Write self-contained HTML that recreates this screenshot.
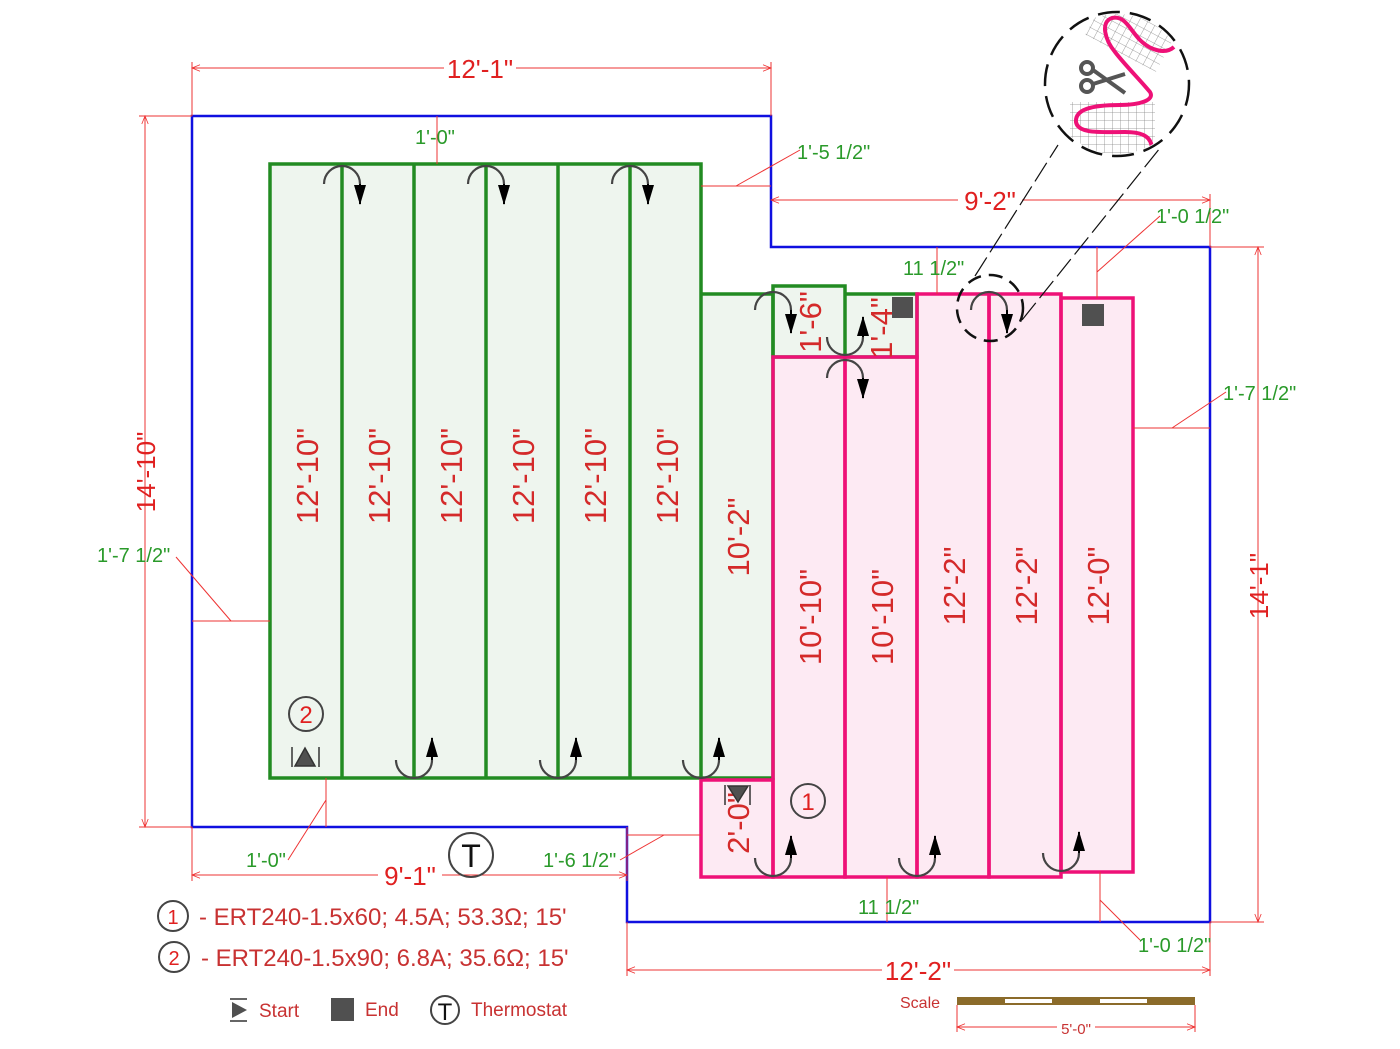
<!DOCTYPE html>
<html><head><meta charset="utf-8"><style>
html,body{margin:0;padding:0;background:#fff}
svg{display:block}
text{font-family:"Liberation Sans",sans-serif}
</style></head><body>
<svg width="1400" height="1049" viewBox="0 0 1400 1049" xmlns="http://www.w3.org/2000/svg">
<defs>
<marker id="ah" viewBox="0 0 20 12" refX="19" refY="6" markerWidth="20" markerHeight="12" orient="auto" markerUnits="userSpaceOnUse">
<path d="M0,0 L20,6 L0,12 z" fill="#000"/></marker>
<marker id="rh" viewBox="0 0 10 10" refX="10" refY="5" markerWidth="22" markerHeight="8" orient="auto-start-reverse" markerUnits="userSpaceOnUse">
<path d="M0,1 L10,5 L0,9" fill="none" stroke="#e33" stroke-width="1"/></marker>
<pattern id="grid" width="8" height="8" patternUnits="userSpaceOnUse"><path d="M8,0 L0,0 0,8" fill="none" stroke="#888" stroke-width="0.8"/></pattern>
<clipPath id="cc"><circle cx="1117" cy="84" r="70"/></clipPath>
</defs>

<rect x="270" y="164" width="431" height="614" fill="#eef5ee"/>
<rect x="701" y="294" width="72" height="484" fill="#eef5ee"/>
<rect x="773" y="286" width="72" height="71" fill="#eef5ee"/>
<rect x="845" y="294" width="72" height="63" fill="#eef5ee"/>
<rect x="773" y="357" width="144" height="520" fill="#fdeaf3"/>
<rect x="917" y="294" width="144" height="583" fill="#fdeaf3"/>
<rect x="1061" y="298" width="72" height="574" fill="#fdeaf3"/>
<rect x="701" y="780" width="72" height="97" fill="#fdeaf3"/>

<path d="M192,116 H771 V247 H1210 V922 H627 V827 H192 Z" fill="none" stroke="#1010e0" stroke-width="2.5"/>

<g fill="none" stroke="#228b22" stroke-width="3.5">
<rect x="270" y="164" width="431" height="614"/>
<line x1="342" y1="164" x2="342" y2="778"/><line x1="414" y1="164" x2="414" y2="778"/>
<line x1="486" y1="164" x2="486" y2="778"/><line x1="558" y1="164" x2="558" y2="778"/>
<line x1="630" y1="164" x2="630" y2="778"/>
<path d="M701,294 H773 V778 H701"/>
<rect x="773" y="286" width="72" height="71"/>
<path d="M845,294 H917 V357 H845"/>
</g>
<g fill="none" stroke="#ee1177" stroke-width="3.5">
<rect x="773" y="357" width="72" height="520"/>
<rect x="845" y="357" width="72" height="520"/>
<rect x="917" y="294" width="72" height="583"/>
<rect x="989" y="294" width="72" height="583"/>
<rect x="1061" y="298" width="72" height="574"/>
<rect x="701" y="780" width="72" height="97"/>
</g>

<g fill="#d42a2a" font-size="31">
<text transform="translate(318,476) rotate(-90)" text-anchor="middle">12'-10"</text>
<text transform="translate(390,476) rotate(-90)" text-anchor="middle">12'-10"</text>
<text transform="translate(462,476) rotate(-90)" text-anchor="middle">12'-10"</text>
<text transform="translate(534,476) rotate(-90)" text-anchor="middle">12'-10"</text>
<text transform="translate(606,476) rotate(-90)" text-anchor="middle">12'-10"</text>
<text transform="translate(678,476) rotate(-90)" text-anchor="middle">12'-10"</text>
<text transform="translate(749,537) rotate(-90)" text-anchor="middle">10'-2"</text>
<text transform="translate(821,617) rotate(-90)" text-anchor="middle">10'-10"</text>
<text transform="translate(893,617) rotate(-90)" text-anchor="middle">10'-10"</text>
<text transform="translate(965,586) rotate(-90)" text-anchor="middle">12'-2"</text>
<text transform="translate(1037,586) rotate(-90)" text-anchor="middle">12'-2"</text>
<text transform="translate(1109,586) rotate(-90)" text-anchor="middle">12'-0"</text>
<text transform="translate(821,322) rotate(-90)" text-anchor="middle">1'-6"</text>
<text transform="translate(892,328) rotate(-90)" text-anchor="middle">1'-4"</text>
<text transform="translate(749,823) rotate(-90)" text-anchor="middle">2'-0"</text>
</g>

<g stroke="#e33" stroke-width="1" fill="none">
<line x1="192" y1="68" x2="771" y2="68" marker-start="url(#rh)" marker-end="url(#rh)"/>
<line x1="192" y1="62" x2="192" y2="116"/><line x1="771" y1="62" x2="771" y2="116"/>
<line x1="145" y1="116" x2="145" y2="827" marker-start="url(#rh)" marker-end="url(#rh)"/>
<line x1="139" y1="116" x2="192" y2="116"/><line x1="139" y1="827" x2="192" y2="827"/>
<line x1="771" y1="200" x2="1210" y2="200" marker-start="url(#rh)" marker-end="url(#rh)"/>
<line x1="1210" y1="194" x2="1210" y2="247"/>
<line x1="1258" y1="247" x2="1258" y2="922" marker-start="url(#rh)" marker-end="url(#rh)"/>
<line x1="1210" y1="247" x2="1264" y2="247"/><line x1="1210" y1="922" x2="1264" y2="922"/>
<line x1="627" y1="970" x2="1210" y2="970" marker-start="url(#rh)" marker-end="url(#rh)"/>
<line x1="627" y1="922" x2="627" y2="976"/><line x1="1210" y1="922" x2="1210" y2="976"/>
<line x1="192" y1="875" x2="627" y2="875" marker-start="url(#rh)" marker-end="url(#rh)"/>
<line x1="192" y1="827" x2="192" y2="881"/><line x1="627" y1="827" x2="627" y2="881"/>
<line x1="437" y1="116" x2="437" y2="164"/>
<line x1="701" y1="186" x2="771" y2="186"/><line x1="736" y1="186" x2="800" y2="150"/>
<line x1="1097" y1="247" x2="1097" y2="298"/><line x1="1097" y1="272" x2="1160" y2="216"/>
<line x1="937" y1="247" x2="937" y2="294"/>
<line x1="1133" y1="428" x2="1210" y2="428"/><line x1="1172" y1="428" x2="1226" y2="392"/>
<line x1="192" y1="621" x2="270" y2="621"/><line x1="231" y1="621" x2="176" y2="557"/>
<line x1="326" y1="778" x2="326" y2="827"/><line x1="326" y1="800" x2="288" y2="860"/>
<line x1="627" y1="835" x2="701" y2="835"/><line x1="664" y1="835" x2="620" y2="860"/>
<line x1="887" y1="877" x2="887" y2="922"/>
<line x1="1100" y1="872" x2="1100" y2="922"/><line x1="1100" y1="900" x2="1140" y2="940"/>
</g>
<g fill="#e02020" font-size="26" text-anchor="middle">
<rect x="444" y="56" width="72" height="24" fill="#fff"/>
<text x="480" y="78">12'-1"</text>
<rect x="958" y="188" width="64" height="24" fill="#fff"/>
<text x="990" y="210">9'-2"</text>
<rect x="882" y="958" width="72" height="24" fill="#fff"/>
<text x="918" y="980">12'-2"</text>
<rect x="378" y="863" width="64" height="24" fill="#fff"/>
<text x="410" y="885">9'-1"</text>
<text transform="translate(155,472) rotate(-90)">14'-10"</text>
<text transform="translate(1268,586) rotate(-90)">14'-1"</text>
</g>
<g fill="#2a9a2a" font-size="20">
<text x="415" y="144">1'-0"</text>
<text x="797" y="159">1'-5 1/2"</text>
<text x="1156" y="223">1'-0 1/2"</text>
<text x="903" y="275">11 1/2"</text>
<text x="1223" y="400">1'-7 1/2"</text>
<text x="97" y="562">1'-7 1/2"</text>
<text x="246" y="867">1'-0"</text>
<text x="543" y="867">1'-6 1/2"</text>
<text x="858" y="914">11 1/2"</text>
<text x="1138" y="952">1'-0 1/2"</text>
</g>

<g fill="none" stroke="#444" stroke-width="2.2">
<path d="M324,184 A18,18 0 0 1 360,184"/><path d="M468,184 A18,18 0 0 1 504,184"/><path d="M612,184 A18,18 0 0 1 648,184"/>
<path d="M755,310 A18,18 0 0 1 791,310"/><path d="M971,310 A18,18 0 0 1 1007,310"/>
<path d="M827,378 A18,18 0 0 1 863,378"/><path d="M827,337 A18,18 0 0 0 863,337"/>
<path d="M396,760 A18,18 0 0 0 432,760"/><path d="M540,760 A18,18 0 0 0 576,760"/><path d="M683,760 A18,18 0 0 0 719,760"/>
<path d="M755,858 A18,18 0 0 0 791,858"/><path d="M899,858 A18,18 0 0 0 935,858"/><path d="M1043,853 A18,18 0 0 0 1079,853"/>
</g>
<g stroke="#000" stroke-width="2" marker-end="url(#ah)">
<line x1="360" y1="184" x2="360" y2="204"/><line x1="504" y1="184" x2="504" y2="204"/><line x1="648" y1="184" x2="648" y2="204"/>
<line x1="791" y1="310" x2="791" y2="333"/><line x1="1007" y1="310" x2="1007" y2="333"/>
<line x1="863" y1="378" x2="863" y2="398"/><line x1="863" y1="337" x2="863" y2="317"/>
<line x1="432" y1="760" x2="432" y2="738"/><line x1="576" y1="760" x2="576" y2="738"/><line x1="719" y1="760" x2="719" y2="738"/>
<line x1="791" y1="858" x2="791" y2="836"/><line x1="935" y1="858" x2="935" y2="836"/><line x1="1079" y1="853" x2="1079" y2="832"/>
</g>

<rect x="892" y="297" width="21" height="21" fill="#505050"/>
<rect x="1082" y="304" width="22" height="22" fill="#505050"/>
<g stroke="#333" stroke-width="1.5">
<line x1="292" y1="747" x2="292" y2="767"/><line x1="319" y1="747" x2="319" y2="767"/>
<path d="M295,766 L305,748 L315,766 Z" fill="#505050"/>
<line x1="725" y1="785" x2="725" y2="805"/><line x1="750" y1="785" x2="750" y2="805"/>
<path d="M728,786 L738,802 L748,786 Z" fill="#505050"/>
</g>
<g fill="none" stroke="#444" stroke-width="2"><circle cx="306" cy="714" r="17"/><circle cx="808" cy="801" r="17"/>
<circle cx="471" cy="855" r="22"/></g>
<g fill="#e02020" font-size="24" text-anchor="middle"><text x="306" y="723">2</text><text x="808" y="810">1</text></g>
<text x="471" y="867" font-size="32" text-anchor="middle" fill="#111">T</text>

<circle cx="990" cy="308" r="33" fill="none" stroke="#111" stroke-width="2.5" stroke-dasharray="14,8"/>
<line x1="975" y1="276" x2="1058" y2="145" stroke="#111" stroke-width="1.2" stroke-dasharray="22,6"/>
<line x1="1022" y1="320" x2="1160" y2="148" stroke="#111" stroke-width="1.2" stroke-dasharray="22,6"/>
<circle cx="1117" cy="84" r="72" fill="#fff" stroke="#111" stroke-width="2.5" stroke-dasharray="22,10"/>
<g clip-path="url(#cc)">
<rect x="1095" y="-5" width="80" height="62" fill="url(#grid)" transform="rotate(28 1135 26)"/>
<rect x="1070" y="102" width="85" height="55" fill="url(#grid)"/>
<path d="M1174,47 C1165,55 1150,50 1140,40 C1130,30 1125,15 1112,18 C1100,22 1105,40 1115,52 C1125,65 1140,80 1150,92 C1155,100 1140,105 1120,105 C1090,105 1075,110 1076,122 C1078,134 1100,132 1125,132 C1145,132 1152,138 1152,150" fill="none" stroke="#ee1177" stroke-width="4"/>
<g stroke="#555" stroke-width="4" fill="none"><circle cx="1087" cy="68" r="6"/><circle cx="1087" cy="86" r="6"/>
<line x1="1093" y1="70" x2="1125" y2="93"/><line x1="1093" y1="84" x2="1125" y2="74"/></g>
</g>

<g fill="none" stroke="#444" stroke-width="2"><circle cx="173" cy="916" r="15"/><circle cx="174" cy="957" r="15"/><circle cx="445" cy="1010" r="14"/></g>
<g fill="#e02020" font-size="20" text-anchor="middle"><text x="173" y="924">1</text><text x="174" y="965">2</text></g>
<g fill="#c83232" font-size="24"><text x="199" y="925">- ERT240-1.5x60; 4.5A; 53.3Ω; 15'</text>
<text x="201" y="966">- ERT240-1.5x90; 6.8A; 35.6Ω; 15'</text></g>
<g stroke="#333" stroke-width="1.5"><line x1="230" y1="999" x2="247" y2="999"/><line x1="230" y1="1021" x2="247" y2="1021"/></g>
<path d="M232,1002 L247,1010 L232,1018 Z" fill="#505050"/>
<rect x="331" y="998" width="23" height="23" fill="#505050"/>
<text x="445" y="1020" font-size="24" text-anchor="middle" fill="#111">T</text>
<g fill="#c83232" font-size="19"><text x="259" y="1017">Start</text><text x="365" y="1016">End</text><text x="471" y="1016">Thermostat</text></g>
<text x="900" y="1008" font-size="16" fill="#c83232">Scale</text>
<rect x="957" y="997" width="238" height="8" fill="#8b6b2a"/>
<rect x="1005" y="999" width="47" height="4" fill="#fff"/><rect x="1100" y="999" width="47" height="4" fill="#fff"/>
<g stroke="#e33" stroke-width="1"><line x1="957" y1="1005" x2="957" y2="1032"/><line x1="1195" y1="1005" x2="1195" y2="1032"/>
<line x1="957" y1="1027" x2="1195" y2="1027" marker-start="url(#rh)" marker-end="url(#rh)"/></g>
<rect x="1057" y="1020" width="38" height="16" fill="#fff"/>
<text x="1076" y="1034" font-size="15" fill="#c83232" text-anchor="middle">5'-0"</text>
</svg>
</body></html>
